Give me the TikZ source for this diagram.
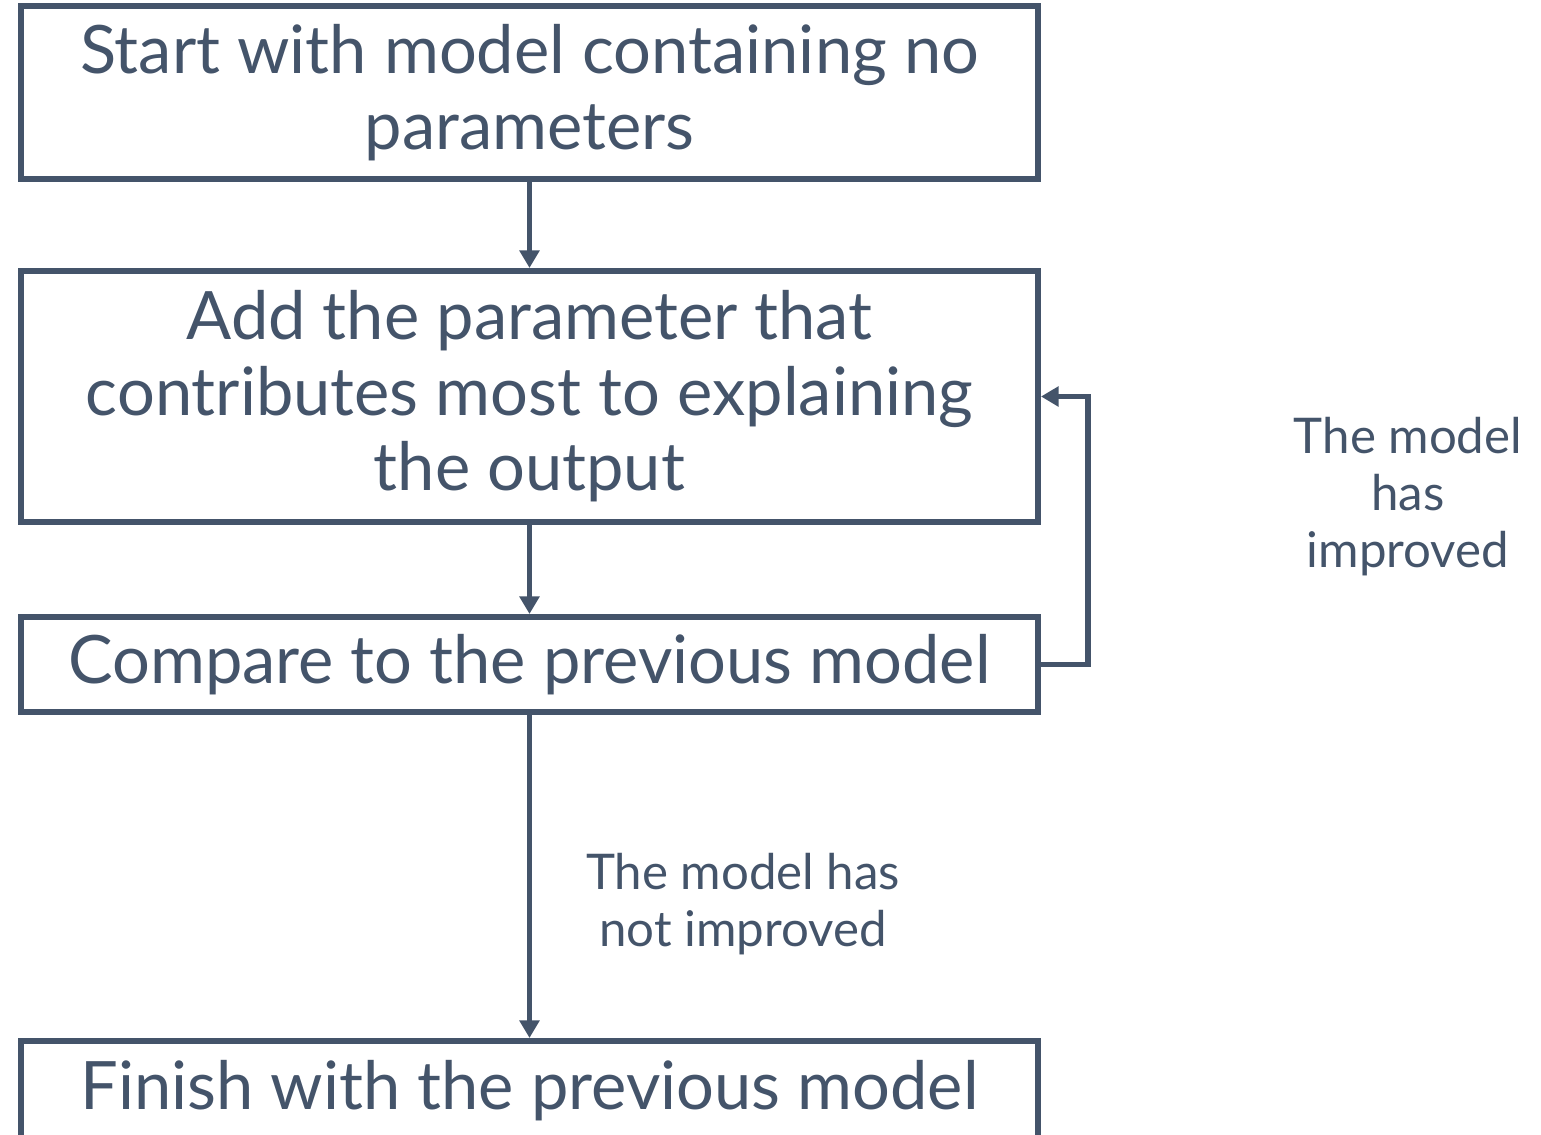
\documentclass[tikz,border=0pt]{standalone}
\usepackage{fontspec}
\setmainfont{Lato}
\usetikzlibrary{arrows.meta, positioning}
\definecolor{slate}{HTML}{44546A}
\tikzstyle{stepbox} = [rectangle, minimum width=10.17cm, text centered, align=center, draw=slate, line width=1.7pt, text=slate, font=\fontsize{19}{21.5}\selectfont, inner sep=0pt]
\tikzstyle{arrow} = [draw=slate, line width=1.7pt, -{Triangle[length=5pt,width=5.5pt]}]
\tikzstyle{note} = [text=slate, align=center, font=\fontsize{14}{16.2}\selectfont]

\begin{document}
\begin{tikzpicture}
\clip (0,0) rectangle (15.41,-11.34);
\useasboundingbox (0,0) rectangle (15.41,-11.34);

% the steps
\node[stepbox, minimum height=1.73cm] (start) at (5.295,-0.925) {Start with model containing no\\parameters};
\node[stepbox, minimum height=2.51cm] (add) at (5.295,-3.965) {Add the parameter that\\contributes most to explaining\\the output};
\node[stepbox, minimum height=0.95cm] (compare) at (5.295,-6.645) {Compare to the previous model};
\node[stepbox, minimum height=1.0cm] (finish) at (5.295,-10.91) {Finish with the previous model};

\draw[arrow] (start) -- (add);
\draw[arrow] (add) -- (compare);
\draw[arrow] (compare) -- (finish);

% loop back
\coordinate[right=0.47cm of compare.east] (loopA);
\draw[arrow] (compare.east) -- (loopA) |- (add.east);

% labels
\node[note] (improved) at (14.08,-4.97) {The model\\has\\improved};
\node[note] (notimproved) at (7.43,-9.04) {The model has\\not improved};

\end{tikzpicture}
\end{document}
